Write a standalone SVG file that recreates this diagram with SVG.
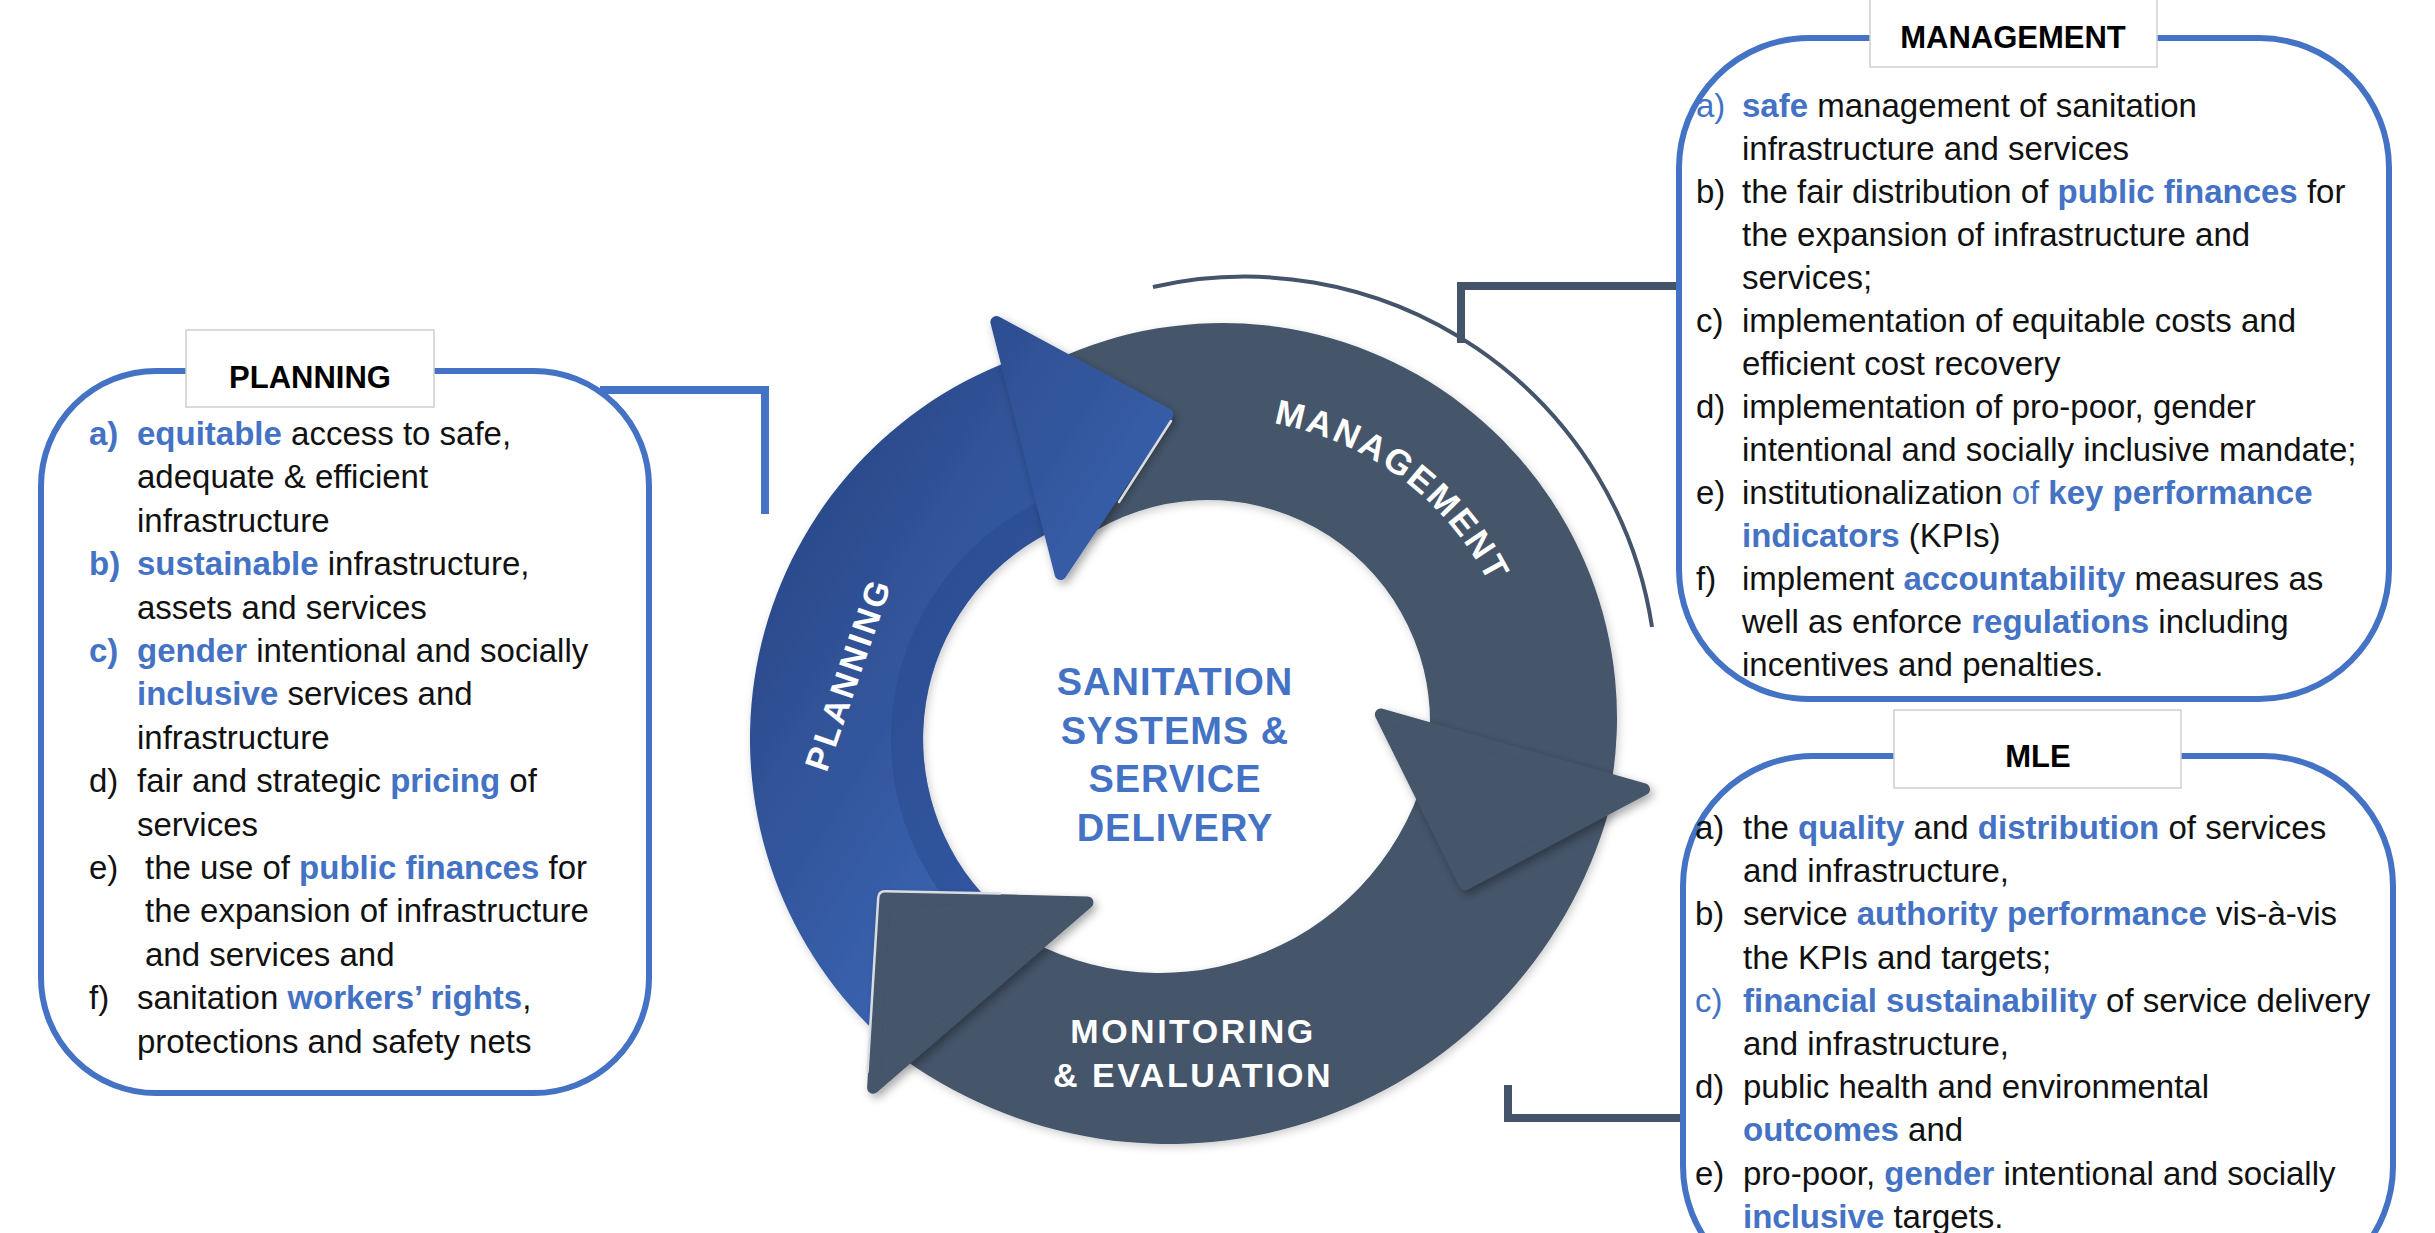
<svg xmlns="http://www.w3.org/2000/svg" width="2435" height="1233" viewBox="0 0 2435 1233">
<defs>
<style>
.box{fill:#fff;stroke:#4472C4;stroke-width:6}
.hdr{fill:#fff;stroke:#CFCFCF;stroke-width:1.5}
.ht{font-family:"Liberation Sans",Arial,sans-serif;font-weight:bold;font-size:31px;fill:#000;text-anchor:middle}
.t{font-family:"Liberation Sans",Arial,sans-serif;font-size:33px;fill:#111}
.b{font-weight:bold;fill:#4472C4}
.bl{fill:#4472C4}
.dark{fill:#44546A}
.darkh{fill:#44546A;stroke:#44546A;stroke-width:12;stroke-linejoin:round}
.ring{font-family:"Liberation Sans",Arial,sans-serif;font-weight:bold;fill:#fff}
.ctr{font-family:"Liberation Sans",Arial,sans-serif;font-weight:bold;font-size:38px;fill:#4472C4;text-anchor:middle;letter-spacing:1px}
.conn{fill:none;stroke-width:8}
.hl{fill:none;stroke:#D9DDE3;stroke-width:2.5;stroke-linecap:round}
</style>
<linearGradient id="gPlan" gradientUnits="userSpaceOnUse" x1="780" y1="500" x2="1100" y2="700">
<stop offset="0" stop-color="#2A4888"/><stop offset="1" stop-color="#3A63B0"/>
</linearGradient>
<filter id="sh" x="-20%" y="-20%" width="140%" height="140%"><feDropShadow dx="3" dy="4" stdDeviation="5" flood-color="#000" flood-opacity="0.35"/></filter>
<filter id="shs" x="-10%" y="-10%" width="120%" height="120%"><feDropShadow dx="2" dy="3" stdDeviation="4" flood-color="#000" flood-opacity="0.2"/></filter>
<path id="mgmtArc" d="M 1072.5 459.1 A 299 299 0 0 1 1521 718"/>
</defs>
<rect width="2435" height="1233" fill="#fff"/>

<g id="connectors">
<path class="conn" stroke="#4472C4" d="M 600 390 H 765 V 514"/>
<path class="conn" stroke="#44546A" d="M 1679 286 H 1461 V 343"/>
<path fill="none" stroke="#44546A" stroke-width="4" d="M 1153 287 A 412 412 0 0 1 1652 627"/>
<path class="conn" stroke="#44546A" d="M 1508 1085 V 1118 H 1684"/>
</g>

<g id="cycle">
<g id="bodies" filter="url(#shs)">
<path id="planning-body" fill="url(#gPlan)" d="M 868.6 1025.4 A 405 405 0 0 1 1009.9 360.9 L 1049.7 532.3 A 232 232 0 0 0 991 903 Z"/>
<path id="management-body" class="dark" d="M 1055.1 360 A 395 395 0 0 1 1611 786.6 L 1429.9 729.7 A 222 222 0 0 0 1083.9 538 Z"/>
<path id="monitoring-body" class="dark" d="M 1612.4 797.6 A 457 457 0 0 1 894 1052 L 1030.4 940.7 A 276 276 0 0 0 1431.8 744.9 Z"/>
</g>
<path id="planning-strip" fill="#27468A" opacity="0.45" d="M 991 903 A 232 232 0 0 1 1049.7 532.3 L 1035.1 503.8 A 264 264 0 0 0 968.3 925.7 Z"/>
<g id="heads" filter="url(#sh)">
<polygon id="planning-head" fill="url(#gPlan)" stroke="url(#gPlan)" stroke-width="12" stroke-linejoin="round" points="996.4,322 1167.2,414.4 1060.6,574"/>
<polygon id="management-head" class="darkh" points="1380.9,714.5 1644,789.3 1465,884.3"/>
<polygon id="monitoring-head" class="darkh" points="884.2,897.3 1087.5,902.4 873.1,1087.8"/>
</g>
<path class="hl" d="M 1171 421 L 1119 502"/>
<path class="hl" d="M 867.5 1072 L 878.2 898 Q 878.6 891.3 885 891.3 L 1000 893.5"/>
<g id="ring-labels">
<text class="ring" font-size="34" letter-spacing="3" text-anchor="middle" transform="translate(848 674) rotate(-71)" y="12">PLANNING</text>
<text class="ring" font-size="35" letter-spacing="2.5"><textPath href="#mgmtArc" startOffset="55.6%" text-anchor="middle">MANAGEMENT</textPath></text>
<text class="ring" font-size="34" letter-spacing="2.5" text-anchor="middle" x="1193" y="1043">MONITORING</text>
<text class="ring" font-size="34" letter-spacing="2.5" text-anchor="middle" x="1193" y="1087">&amp; EVALUATION</text>
</g>
<g id="center-label">
<text class="ctr" x="1175" y="695">SANITATION</text>
<text class="ctr" x="1175" y="744">SYSTEMS &amp;</text>
<text class="ctr" x="1175" y="792">SERVICE</text>
<text class="ctr" x="1175" y="841">DELIVERY</text>
</g>
</g>

<g id="planning-box">
<rect class="box" x="41" y="371" width="608" height="722" rx="115"/>
<rect class="hdr" x="186" y="330" width="248" height="77"/>
<text class="ht" x="310" y="388">PLANNING</text>
<g class="t">
<text x="89" y="445" class="b">a)</text><text x="137" y="445"><tspan class="b">equitable</tspan> access to safe,</text>
<text x="137" y="488.4">adequate &amp; efficient</text>
<text x="137" y="531.8">infrastructure</text>
<text x="89" y="575.2" class="b">b)</text><text x="137" y="575.2"><tspan class="b">sustainable</tspan> infrastructure,</text>
<text x="137" y="618.6">assets and services</text>
<text x="89" y="662" class="b">c)</text><text x="137" y="662"><tspan class="b">gender</tspan> intentional and socially</text>
<text x="137" y="705.4"><tspan class="b">inclusive</tspan> services and</text>
<text x="137" y="748.8">infrastructure</text>
<text x="89" y="792.2">d)</text><text x="137" y="792.2">fair and strategic <tspan class="b">pricing</tspan> of</text>
<text x="137" y="835.6">services</text>
<text x="89" y="879">e)</text><text x="145" y="879">the use of <tspan class="b">public finances</tspan> for</text>
<text x="145" y="922.4">the expansion of infrastructure</text>
<text x="145" y="965.8">and services and</text>
<text x="89" y="1009.2">f)</text><text x="137" y="1009.2">sanitation <tspan class="b">workers’ rights</tspan>,</text>
<text x="137" y="1052.6">protections and safety nets</text>
</g>
</g>

<g id="management-box">
<rect class="box" x="1679" y="38" width="710" height="661" rx="130"/>
<rect class="hdr" x="1870" y="-2" width="287" height="69"/>
<text class="ht" x="2013" y="48">MANAGEMENT</text>
<g class="t">
<text x="1696" y="116.5" class="bl">a)</text><text x="1742" y="116.5"><tspan class="b">safe</tspan> management of sanitation</text>
<text x="1742" y="159.5">infrastructure and services</text>
<text x="1696" y="202.5">b)</text><text x="1742" y="202.5">the fair distribution of <tspan class="b">public finances</tspan> for</text>
<text x="1742" y="245.5">the expansion of infrastructure and</text>
<text x="1742" y="288.5">services;</text>
<text x="1696" y="331.5">c)</text><text x="1742" y="331.5">implementation of equitable costs and</text>
<text x="1742" y="374.5">efficient cost recovery</text>
<text x="1696" y="417.5">d)</text><text x="1742" y="417.5">implementation of pro-poor, gender</text>
<text x="1742" y="460.5">intentional and socially inclusive mandate;</text>
<text x="1696" y="503.5">e)</text><text x="1742" y="503.5">institutionalization <tspan class="bl">of</tspan> <tspan class="b">key performance</tspan></text>
<text x="1742" y="546.5"><tspan class="b">indicators</tspan> (KPIs)</text>
<text x="1696" y="589.5">f)</text><text x="1742" y="589.5">implement <tspan class="b">accountability</tspan> measures as</text>
<text x="1742" y="632.5">well as enforce <tspan class="b">regulations</tspan> including</text>
<text x="1742" y="675.5">incentives and penalties.</text>
</g>
</g>

<g id="mle-box">
<rect class="box" x="1683" y="756" width="710" height="540" rx="130"/>
<rect class="hdr" x="1894" y="710" width="287" height="78"/>
<text class="ht" x="2038" y="767">MLE</text>
<g class="t">
<text x="1695" y="839">a)</text><text x="1743" y="839">the <tspan class="b">quality</tspan> and <tspan class="b">distribution</tspan> of services</text>
<text x="1743" y="882.2">and infrastructure,</text>
<text x="1695" y="925.4">b)</text><text x="1743" y="925.4">service <tspan class="b">authority performance</tspan> vis-à-vis</text>
<text x="1743" y="968.6">the KPIs and targets;</text>
<text x="1695" y="1011.8" class="bl">c)</text><text x="1743" y="1011.8"><tspan class="b">financial sustainability</tspan> of service delivery</text>
<text x="1743" y="1055">and infrastructure,</text>
<text x="1695" y="1098.2">d)</text><text x="1743" y="1098.2">public health and environmental</text>
<text x="1743" y="1141.4"><tspan class="b">outcomes</tspan> and</text>
<text x="1695" y="1184.6">e)</text><text x="1743" y="1184.6">pro-poor, <tspan class="b">gender</tspan> intentional and socially</text>
<text x="1743" y="1227.8"><tspan class="b">inclusive</tspan> targets.</text>
</g>
</g>
</svg>
